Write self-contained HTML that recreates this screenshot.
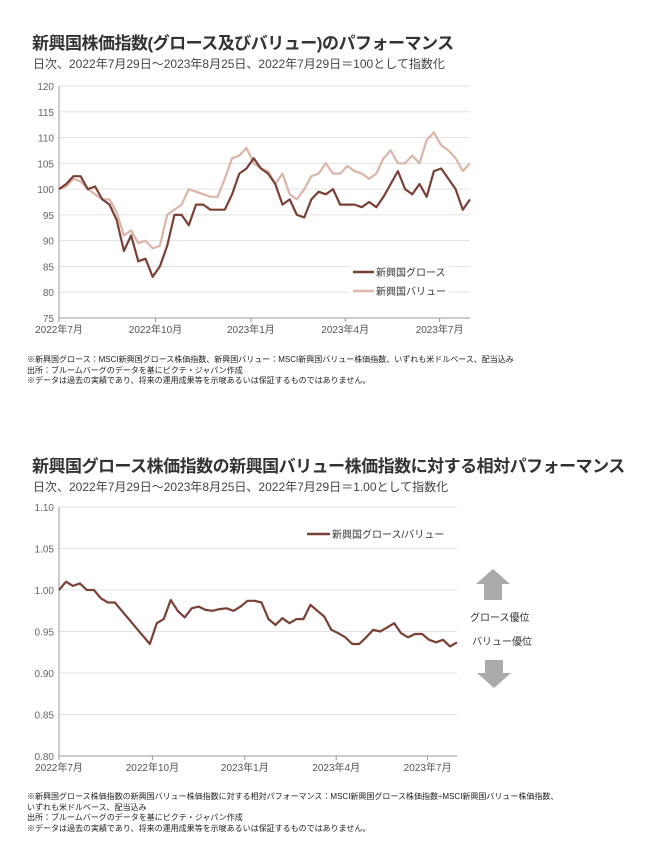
<!DOCTYPE html>
<html><head><meta charset="utf-8">
<style>
body{margin:0;background:#fff;width:669px;height:867px;overflow:hidden;font-family:"Liberation Sans","Noto Sans CJK JP",sans-serif;}
.t{position:absolute;white-space:nowrap;color:#333;}
.title{font-size:17px;font-weight:bold;letter-spacing:-0.5px;}
.sub{font-size:12px;color:#444;}
.note{font-size:8px;color:#222;line-height:10.5px;}
svg text{font-family:"Liberation Sans","Noto Sans CJK JP",sans-serif;}
</style></head><body>
<div class="t title" style="left:32px;top:29px;">新興国株価指数(グロース及びバリュー)のパフォーマンス</div>
<div class="t sub" style="left:33px;top:55px;">日次、2022年7月29日～2023年8月25日、2022年7月29日＝100として指数化</div>
<div class="t note" style="left:27px;top:355px;">※新興国グロース：MSCI新興国グロース株価指数、新興国バリュー：MSCI新興国バリュー株価指数、いずれも米ドルベース、配当込み<br>出所：ブルームバーグのデータを基にピクテ・ジャパン作成<br>※データは過去の実績であり、将来の運用成果等を示唆あるいは保証するものではありません。</div>
<div class="t title" style="left:32px;top:452px;">新興国グロース株価指数の新興国バリュー株価指数に対する相対パフォーマンス</div>
<div class="t sub" style="left:33px;top:478px;">日次、2022年7月29日～2023年8月25日、2022年7月29日＝1.00として指数化</div>
<div class="t note" style="left:27px;top:792px;">※新興国グロース株価指数の新興国バリュー株価指数に対する相対パフォーマンス：MSCI新興国グロース株価指数÷MSCI新興国バリュー株価指数、<br>いずれも米ドルベース、配当込み<br>出所：ブルームバーグのデータを基にピクテ・ジャパン作成<br>※データは過去の実績であり、将来の運用成果等を示唆あるいは保証するものではありません。</div>

<svg id="c1" width="669" height="340" style="position:absolute;left:0;top:0"></svg>
<svg id="c2" width="669" height="790" style="position:absolute;left:0;top:0"></svg>

<script>
const xLabels = ["2022年7月","2022年10月","2023年1月","2023年4月","2023年7月"];
const xTickDays = [0, 92, 183, 273, 363];
const totalDays = 392;
const growth = [100,101,102.5,102.5,100,100.5,98,97,94,88,91,86,86.5,83,85,89,95,95,93,97,97,96,96,96,99,103,104,106,104,103,101,97,98,95,94.5,98,99.5,99,100,97,97,97,96.5,97.5,96.5,98.5,101,103.5,100,99,101,98.5,103.5,104,102,100,96,98];
const value = [100,100.5,102,101.5,100,99,98,98,95.5,91,92,89.5,90,88.5,89,95,96,97,100,99.5,99,98.5,98.5,102,106,106.5,108,105,104,103.5,101,103,99,98,100,102.5,103,105,103,103,104.5,103.5,103,102,103,106,107.5,105,105,106.5,105,109.5,111,108.5,107.5,106,103.5,105];
const yTicks1 = [75,80,85,90,95,100,105,110,115,120];
const ratio = [1.00,1.01,1.005,1.008,1.0,1.0,0.99,0.985,0.985,0.975,0.965,0.955,0.945,0.935,0.96,0.965,0.988,0.975,0.967,0.978,0.98,0.976,0.975,0.977,0.978,0.975,0.98,0.987,0.987,0.985,0.965,0.958,0.966,0.96,0.965,0.965,0.982,0.975,0.968,0.952,0.948,0.943,0.935,0.935,0.943,0.952,0.95,0.955,0.96,0.948,0.943,0.947,0.947,0.94,0.937,0.94,0.932,0.937];
const yTicks2 = [0.80,0.85,0.90,0.95,1.00,1.05,1.10];

const NS="http://www.w3.org/2000/svg";
function mk(svg,tag,attrs){const e=document.createElementNS(NS,tag);for(const k in attrs)e.setAttribute(k,attrs[k]);svg.appendChild(e);return e;}

function chart(svg,o){
  const X=d=>o.x0+(o.x1-o.x0)*d/totalDays;
  const Y=v=>o.y1-(o.y1-o.y0)*(v-o.ymin)/(o.ymax-o.ymin);
  o.yt.forEach(v=>{
    const g=mk(svg,'line',{x1:o.x0,x2:o.x1,y1:Y(v),y2:Y(v),stroke:'#e3e3e3','stroke-width':1});
    
    
    const t=mk(svg,'text',{x:o.x0-5,y:Y(v)+4,'text-anchor':'end','font-size':10,fill:'#666'});
    t.textContent=o.fmt(v);
    
    
  });
  mk(svg,'line',{x1:o.x0,x2:o.x0,y1:o.y0,y2:o.y1,stroke:'#999'});
  mk(svg,'line',{x1:o.x0,x2:o.x1,y1:o.y1,y2:o.y1,stroke:'#999'});
  xTickDays.forEach((d,i)=>{
    mk(svg,'line',{x1:X(d),x2:X(d),y1:o.y1,y2:o.y1+4,stroke:'#999'});
    const t=mk(svg,'text',{x:X(d),y:o.y1+15,'text-anchor':'middle','font-size':10,fill:'#555'});
    t.textContent=xLabels[i];
    
    
  });
  o.series.forEach(s=>{
    const n=s.data.length;
    const pts=s.data.map((v,i)=>X(totalDays*i/(n-1)).toFixed(1)+','+Y(v).toFixed(1)).join(' ');
    const p=mk(svg,'polyline',{points:pts,fill:'none',stroke:s.color,'stroke-width':2.2,'stroke-linejoin':'round'});
    
    
  });
}
const c1=document.getElementById('c1');
chart(c1,{x0:59,x1:470,y0:86,y1:318,ymin:75,ymax:120,yt:yTicks1,fmt:v=>String(v),
  series:[{data:value,color:'#dcb5a8',name:'value-line'},{data:growth,color:'#7a4036',name:'growth-line'}]});
const c2=document.getElementById('c2');
chart(c2,{x0:59,x1:457,y0:507,y1:756,ymin:0.80,ymax:1.10,yt:yTicks2,fmt:v=>v.toFixed(2),
  series:[{data:ratio,color:'#7a4036',name:'ratio-line'}]});
</script>

<svg width="669" height="867" style="position:absolute;left:0;top:0">
 <rect x="349" y="262" width="100" height="40" fill="#fff"/>
 <g><line x1="353" y1="272" x2="374" y2="272" stroke="#7a4036" stroke-width="2.5"/><text x="376" y="276" font-size="10" fill="#333">新興国グロース</text></g>
 <g><line x1="353" y1="291" x2="374" y2="291" stroke="#dcb5a8" stroke-width="2.5"/><text x="376" y="295" font-size="10" fill="#333">新興国バリュー</text></g>
 <g><line x1="307" y1="534" x2="330" y2="534" stroke="#7a4036" stroke-width="2.5"/><text x="332" y="538" font-size="10" fill="#333">新興国グロース/バリュー</text></g>
 <polygon points="493,569 510,584 502,584 502,600 484,600 484,584 476,584" fill="#aaa"/>
 <text x="470" y="621" font-size="10" fill="#333">グロース優位</text>
 <text x="472" y="645" font-size="10" fill="#333">バリュー優位</text>
 <polygon points="494,688 511,673 503,673 503,660 485,660 485,673 477,673" fill="#aaa"/>
</svg>
</body></html>
